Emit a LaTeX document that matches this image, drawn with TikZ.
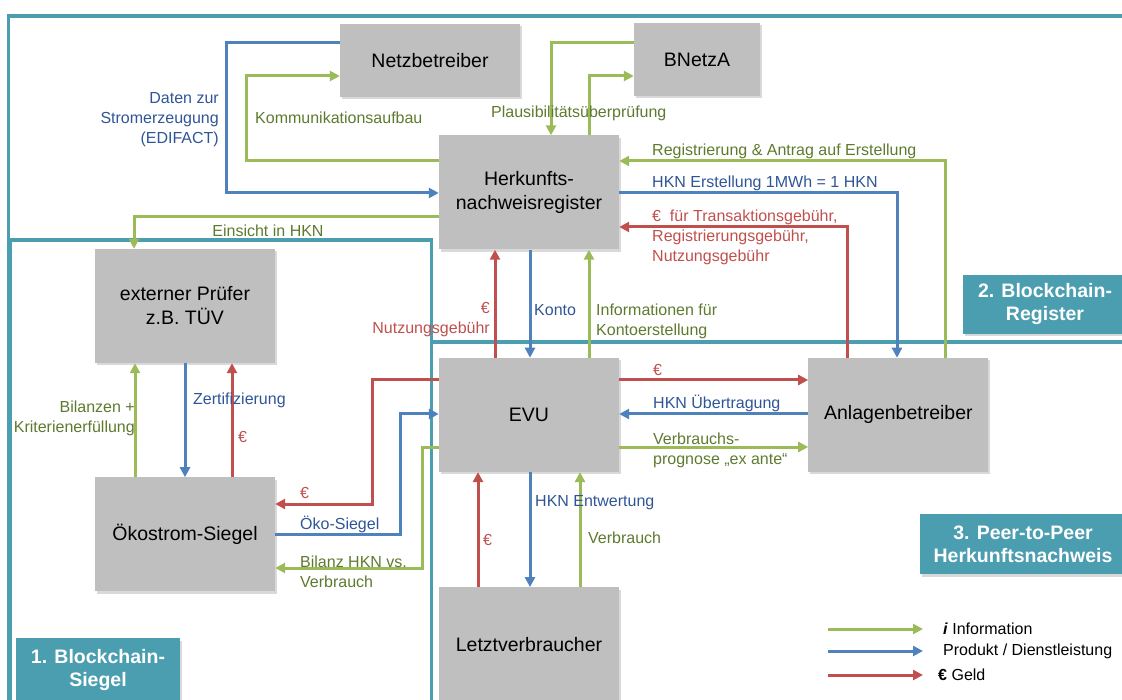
\documentclass[tikz,border=0pt]{standalone}
\usepackage{fontspec}
\setmainfont{Liberation Sans}
\usetikzlibrary{arrows.meta, positioning, shadows}
\definecolor{tuerkis}{RGB}{74,158,176}
\definecolor{grauBox}{RGB}{191,191,191}
\definecolor{gruenLinie}{RGB}{155,187,89}
\definecolor{blauLinie}{RGB}{79,129,189}
\definecolor{rotLinie}{RGB}{192,80,77}
\definecolor{gruenText}{RGB}{94,122,46}
\definecolor{blauText}{RGB}{47,85,151}
\definecolor{rotText}{RGB}{192,80,77}
\newcommand{\lblfont}{\fontsize{16}{20}\selectfont}
\newcommand{\boxfont}{\fontsize{19.5}{24}\selectfont}
\newcommand{\tagfont}{\fontsize{19.5}{23}\selectfont\bfseries}

\begin{document}
\begin{tikzpicture}[
    x=1pt, y=-1pt,
    node distance=108pt,
    every node/.style={font=\lblfont, inner sep=0pt},
    box/.style={rectangle, fill=grauBox, minimum width=180pt, minimum height=114pt, align=center, font=\boxfont,
        drop shadow={shadow xshift=1.5pt, shadow yshift=-2.5pt, opacity=0.3}},
    tag/.style={rectangle, fill=tuerkis, text=white, align=center, font=\tagfont,
        drop shadow={shadow xshift=1.5pt, shadow yshift=-2.5pt, opacity=0.3}},
    frame/.style={draw=tuerkis, line width=3.2pt},
    info/.style={draw=gruenLinie, line width=3pt, -{Triangle[length=10pt,width=10pt]}},
    prod/.style={draw=blauLinie, line width=3pt, -{Triangle[length=10pt,width=10pt]}},
    geld/.style={draw=rotLinie, line width=3pt, -{Triangle[length=10pt,width=10pt]}},
    itxt/.style={text=gruenText, align=left},
    ptxt/.style={text=blauText, align=left},
    gtxt/.style={text=rotText, align=left}
]
    \useasboundingbox (0,0) rectangle (1122,700);
    \clip (0,0) rectangle (1122,700);

    % Bereiche
    \draw[frame] (8.5,16) rectangle (1140,720);
    \draw[frame] (10,240) rectangle (431.5,720);
    \draw[frame] (431.5,342) rectangle (1140,720);

    % Akteure
    \node[box] (herk) at (529,192.5) {Herkunfts-\\nachweisregister};
    \node[box, below=of herk] (evu) {EVU};
    \node[box, below=115pt of evu] (letzt) {Letztverbraucher};
    \node[box, right=189pt of evu] (anlagen) {Anlagenbetreiber};
    \node[box, minimum height=73pt] (netz) at (430,60.5) {Netzbetreiber};
    \node[box, minimum width=126pt, minimum height=73pt] (bnetza) at (697,59.5) {BNetzA};
    \node[box] (pruefer) at (185,306) {externer Prüfer\\z.B. TÜV};
    \node[box, below=114pt of pruefer] (oeko) {Ökostrom-Siegel};

    \node[tag, minimum width=164pt, minimum height=64pt] (tag1) at (98,670) {1. Blockchain-\\Siegel};
    \node[tag, minimum width=164pt, minimum height=59pt] (tag2) at (1045,304.5) {2. Blockchain-\\Register};
    \node[tag, minimum width=206pt, minimum height=60pt] (tag3) at (1023,544) {3. Peer-to-Peer\\Herkunftsnachweis};

    % Netzbetreiber / BNetzA
    \draw[prod] (netz.west |- 0,43) -- ++(-113,0) |- (herk.west |- 0,193);
    \draw[info] (herk.west |- 0,161) -- ++(-192,0) |- (netz.west |- 0,76);
    \draw[info] (herk.west |- 0,217) -| (pruefer.north -| 134,0);
    \draw[info] (bnetza.west |- 0,43) -| (herk.north -| 551,0);
    \draw[info] (herk.north -| 589,0) |- (bnetza.west |- 0,76);
    \node[ptxt, align=right, anchor=east] (daten) at (219,120) {Daten zur\\Stromerzeugung\\(EDIFACT)};
    \node[itxt, anchor=west] (komm) at (255,118) {Kommunikationsaufbau};
    \node[itxt] (einsicht) at (268,231) {Einsicht in HKN};
    \node[itxt, anchor=west] (plaus) at (491,113) {Plausibilitätsüberprüfung};

    % Register / Anlagenbetreiber
    \draw[info] (anlagen.north -| 945,0) |- (herk.east |- 0,161);
    \draw[prod] (herk.east |- 0,193) -| (anlagen.north -| 897,0);
    \draw[geld] (anlagen.north -| 847,0) |- (herk.east |- 0,227);
    \node[itxt, anchor=west] (regist) at (652,151) {Registrierung \& Antrag auf Erstellung};
    \node[ptxt, anchor=west] (erstell) at (652,183) {HKN Erstellung 1MWh = 1 HKN};
    \node[gtxt, anchor=west] (gebuehr) at (652,237) {€\ \ für Transaktionsgebühr,\\Registrierungsgebühr,\\Nutzungsgebühr};

    % Register / EVU
    \draw[geld] (evu.north -| 495,0) -- (herk.south -| 495,0);
    \draw[prod] (herk.south -| 530,0) -- (evu.north -| 530,0);
    \draw[info] (evu.north -| 589,0) -- (herk.south -| 589,0);
    \node[gtxt, align=right, anchor=east] (nutzung) at (490,320) {€\\Nutzungsgebühr};
    \node[ptxt, anchor=west] (konto) at (534,310) {Konto};
    \node[itxt, anchor=west] (kontoinfo) at (596,321) {Informationen für\\Kontoerstellung};

    % EVU / Anlagenbetreiber
    \draw[geld] (evu.east |- 0,380) -- (anlagen.west |- 0,380);
    \draw[prod] (anlagen.west |- 0,414) -- (evu.east |- 0,414);
    \draw[info] (evu.east |- 0,447) -- (anlagen.west |- 0,447);
    \node[gtxt, anchor=west] (euroanl) at (653,370) {€};
    \node[ptxt, anchor=west] (uebertr) at (653,403) {HKN Übertragung};
    \node[itxt, anchor=west] (prognose) at (653,450) {Verbrauchs-\\prognose „ex ante“};

    % EVU / Letztverbraucher
    \draw[geld] (letzt.north -| 478,0) -- (evu.south -| 478,0);
    \draw[prod] (evu.south -| 530,0) -- (letzt.north -| 530,0);
    \draw[info] (letzt.north -| 580,0) -- (evu.south -| 580,0);
    \node[gtxt, anchor=west] (euroletzt) at (483,540) {€};
    \node[ptxt, anchor=west] (entwert) at (535,503) {HKN Entwertung};
    \node[itxt, anchor=west] (verbrauch) at (588,538) {Verbrauch};

    % EVU / Oekostrom-Siegel
    \draw[geld] (evu.west |- 0,380) -- ++(-66,0) |- (oeko.east |- 0,504);
    \draw[prod] (oeko.east |- 0,534) -- ++(125,0) |- (evu.west |- 0,414);
    \draw[info] (evu.west |- 0,447) -- ++(-16,0) |- (oeko.east |- 0,568);
    \node[gtxt, anchor=west] (euroeko) at (300,493) {€};
    \node[ptxt, anchor=west] (siegel) at (300,524) {Öko-Siegel};
    \node[itxt, anchor=west] (bilanz) at (300,572) {Bilanz HKN vs.\\Verbrauch};

    % Pruefer / Oekostrom-Siegel
    \draw[info] (oeko.north -| 135,0) -- (pruefer.south -| 135,0);
    \draw[prod] (pruefer.south -| 185,0) -- (oeko.north -| 185,0);
    \draw[geld] (oeko.north -| 232,0) -- (pruefer.south -| 232,0);
    \node[itxt, align=right, anchor=east] (bilanzen) at (135,418) {Bilanzen +\\Kriterienerfüllung};
    \node[ptxt, anchor=west] (zert) at (193,400) {Zertifizierung};
    \node[gtxt, anchor=west] (europruef) at (238,437) {€};

    % Legende
    \coordinate (lgA) at (828,629);
    \coordinate (lgB) at (828,651);
    \coordinate (lgC) at (828,675);
    \draw[info] (lgA) -- ++(95,0);
    \draw[prod] (lgB) -- ++(95,0);
    \draw[geld] (lgC) -- ++(95,0);
    \node[anchor=west] (lgtxtA) at (943,629) {\textbf{\textit{i}} Information};
    \node[anchor=west] (lgtxtB) at (943,651) {Produkt / Dienstleistung};
    \node[anchor=west] (lgtxtC) at (938,675) {\textbf{€} Geld};
\end{tikzpicture}
\end{document}
